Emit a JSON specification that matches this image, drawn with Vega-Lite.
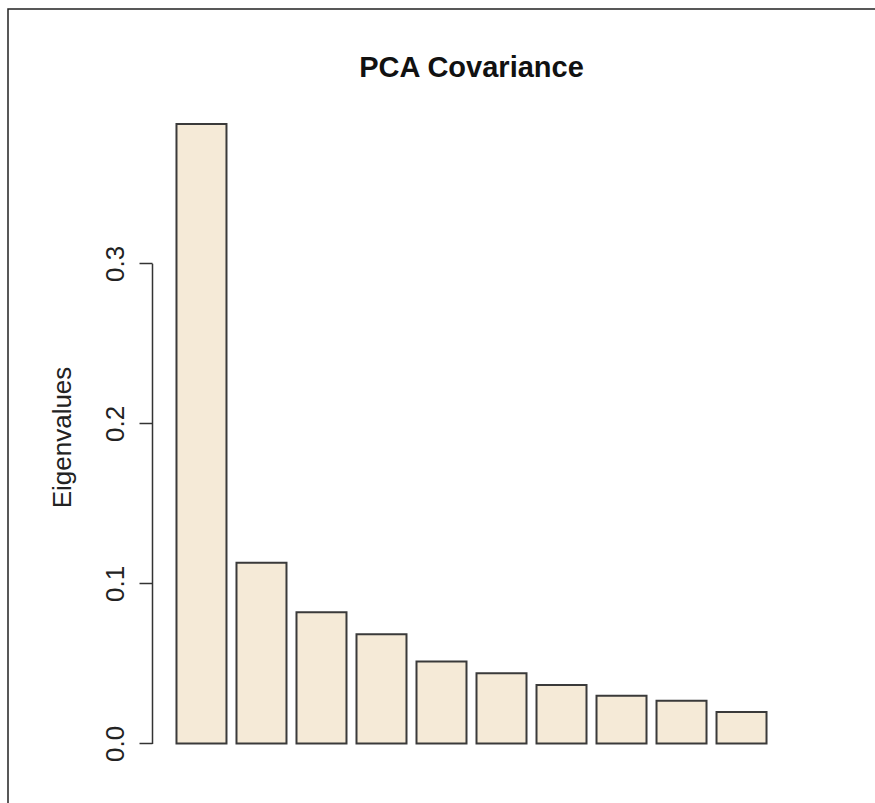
{
  "$schema": "https://vega.github.io/schema/vega-lite/v6.json",
  "width": 870,
  "height": 800,
  "autosize": {"type": "none"},
  "padding": {"left": 8, "top": 9, "right": 0, "bottom": 0},
  "background": "white",
  "config": {
    "font": "Liberation Sans",
    "view": {"stroke": "#222222", "strokeWidth": 1.5}
  },
  "title": {
    "text": "PCA Covariance",
    "font": "Liberation Sans",
    "fontSize": 29,
    "fontWeight": "bold",
    "color": "#111111",
    "anchor": "middle",
    "dx": 28.5,
    "baseline": "alphabetic",
    "offset": -97
  },
  "data": {
    "values": [
      {"comp": "Comp.1", "eigen": 0.387},
      {"comp": "Comp.2", "eigen": 0.1129},
      {"comp": "Comp.3", "eigen": 0.0819},
      {"comp": "Comp.4", "eigen": 0.0682},
      {"comp": "Comp.5", "eigen": 0.0511},
      {"comp": "Comp.6", "eigen": 0.0438},
      {"comp": "Comp.7", "eigen": 0.0365},
      {"comp": "Comp.8", "eigen": 0.0298},
      {"comp": "Comp.9", "eigen": 0.0267},
      {"comp": "Comp.10", "eigen": 0.0196}
    ]
  },
  "mark": {"type": "bar", "fill": "#F5EAD7", "stroke": "#3a3a3a", "strokeWidth": 2, "clip": false},
  "encoding": {
    "x": {
      "field": "comp",
      "type": "nominal",
      "sort": null,
      "scale": {"range": [144, 783], "paddingInner": 0.1667, "paddingOuter": 0.408},
      "axis": null
    },
    "y": {
      "field": "eigen",
      "type": "quantitative",
      "scale": {"domain": [0, 0.3], "range": [734.4, 254.3], "nice": false, "zero": false, "clamp": false},
      "axis": {
        "orient": "left",
        "offset": -144,
        "values": [0, 0.1, 0.2, 0.3],
        "format": ".1f",
        "grid": false,
        "domain": true,
        "domainColor": "#333333",
        "domainWidth": 1.5,
        "ticks": true,
        "tickSize": 13,
        "tickColor": "#333333",
        "tickWidth": 1.5,
        "labelAngle": -90,
        "labelAlign": "center",
        "labelBaseline": "alphabetic",
        "labelPadding": 16,
        "labelFontSize": 26,
        "labelColor": "#222222",
        "labelFont": "Liberation Sans",
        "title": "Eigenvalues",
        "titleFont": "Liberation Sans",
        "titleFontSize": 26,
        "titleFontWeight": "normal",
        "titleColor": "#222222",
        "titleAngle": -90,
        "titleAlign": "center",
        "titleBaseline": "alphabetic",
        "titleX": -82,
        "titleY": 428
      }
    },
    "y2": {"datum": 0}
  }
}
